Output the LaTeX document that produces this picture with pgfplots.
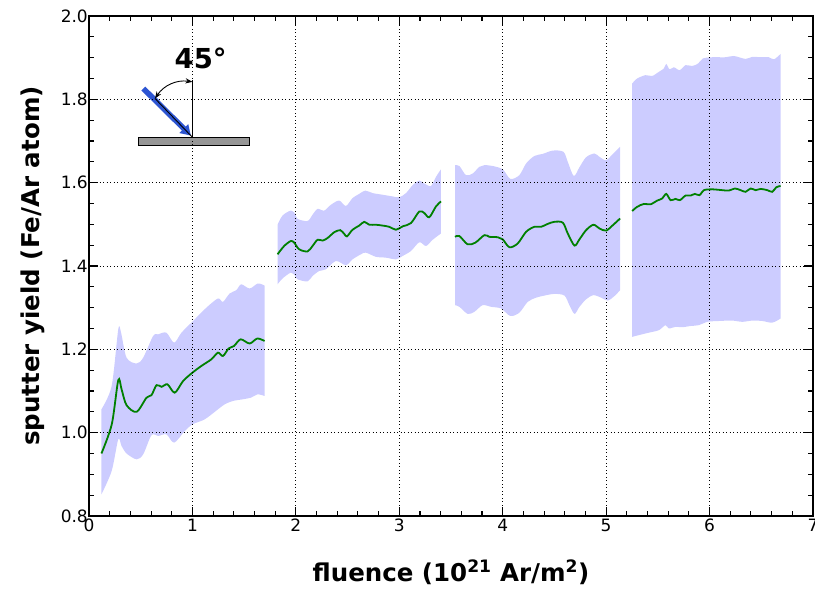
\documentclass[border=0pt]{standalone}
\usepackage{pgfplots}
\pgfplotsset{compat=1.18}
\usepgfplotslibrary{fillbetween}
\usetikzlibrary{arrows.meta}
\usepackage{fontspec}
\setmainfont{DejaVu Sans}
\definecolor{band}{RGB}{204,204,255}
\definecolor{lgreen}{RGB}{0,128,0}
\definecolor{arrowblue}{RGB}{45,85,210}
\definecolor{subgray}{RGB}{150,150,150}
\begin{document}
\begin{tikzpicture}
\begin{axis}[
  scale only axis, width=724pt, height=500pt,
  xmin=0, xmax=7, ymin=0.8, ymax=2.0,
  xtick={0,1,2,3,4,5,6,7},
  ytick={0.8,1.0,1.2,1.4,1.6,1.8,2.0},
  yticklabel style={/pgf/number format/fixed, /pgf/number format/fixed zerofill, /pgf/number format/precision=1, inner xsep=1pt},
  minor x tick num=4, minor y tick num=3,
  tick align=inside,
  major tick length=9pt, minor tick length=5pt,
  every tick/.style={black, line width=1.1pt},
  axis line style={line width=1.2pt},
  grid=major,
  major grid style={black, line width=0.9pt, dash pattern=on 0.9pt off 2.6pt},
  axis on top,
  /pgf/number format/assume math mode=true,
  tick label style={font=\fontsize{17}{20}\selectfont},
  xticklabel style={inner ysep=3pt},
  xlabel={\textbf{fluence (10\textsuperscript{21} Ar/m\textsuperscript{2})}},
  ylabel={\textbf{sputter yield (Fe/Ar atom)}},
  every axis x label/.style={at={(axis description cs:0.5,0)}, anchor=center, yshift=-56pt, font=\fontsize{24.5}{28}\selectfont},
  every axis y label/.style={at={(axis description cs:0,0.5)}, anchor=center, rotate=90, yshift=56pt, font=\fontsize{24.5}{28}\selectfont},
]
% ---------- segment 1
\addplot[name path=u1, draw=none, smooth, tension=0.5] coordinates {
(0.12,1.056)(0.219,1.112)(0.283,1.248)(0.31,1.240)(0.363,1.180)(0.46,1.166)(0.524,1.180)(0.62,1.232)(0.669,1.236)(0.748,1.240)(0.823,1.216)(0.894,1.240)(1.006,1.268)(1.135,1.300)(1.247,1.322)(1.295,1.314)(1.36,1.334)(1.424,1.342)(1.472,1.356)(1.553,1.346)(1.633,1.358)(1.697,1.353)};
\addplot[name path=l1, draw=none, smooth, tension=0.5] coordinates {
(0.12,0.852)(0.219,0.908)(0.283,0.984)(0.315,0.968)(0.363,0.950)(0.46,0.936)(0.524,0.948)(0.604,0.994)(0.669,0.992)(0.748,0.996)(0.823,0.976)(0.926,1.004)(1.0,1.020)(1.119,1.032)(1.247,1.056)(1.312,1.068)(1.39,1.076)(1.485,1.080)(1.566,1.084)(1.63,1.092)(1.697,1.088)};
\addplot[band, draw=none] fill between[of=u1 and l1];
% ---------- segment 2
\addplot[name path=u2, draw=none, smooth, tension=0.5] coordinates {
(1.823,1.499)(1.871,1.521)(1.952,1.533)(1.994,1.525)(2.016,1.513)(2.113,1.508)(2.161,1.523)(2.21,1.537)(2.274,1.533)(2.339,1.547)(2.419,1.557)(2.484,1.544)(2.548,1.563)(2.613,1.573)(2.671,1.581)(2.742,1.575)(2.839,1.571)(2.935,1.567)(3.0,1.565)(3.065,1.575)(3.129,1.594)(3.194,1.605)(3.242,1.598)(3.306,1.592)(3.355,1.614)(3.403,1.632)};
\addplot[name path=l2, draw=none, smooth, tension=0.5] coordinates {
(1.823,1.356)(1.871,1.370)(1.952,1.384)(1.994,1.376)(2.016,1.368)(2.113,1.363)(2.161,1.376)(2.226,1.388)(2.29,1.392)(2.387,1.412)(2.484,1.402)(2.548,1.416)(2.629,1.428)(2.677,1.432)(2.774,1.422)(2.871,1.420)(2.968,1.416)(3.032,1.424)(3.113,1.436)(3.194,1.457)(3.258,1.448)(3.323,1.463)(3.403,1.478)};
\addplot[band, draw=none] fill between[of=u2 and l2];
% ---------- segment 3
\addplot[name path=u3, draw=none, smooth, tension=0.5] coordinates {
(3.539,1.642)(3.581,1.640)(3.645,1.618)(3.71,1.622)(3.774,1.638)(3.823,1.642)(3.903,1.640)(4.0,1.632)(4.074,1.609)(4.161,1.618)(4.226,1.646)(4.306,1.664)(4.387,1.669)(4.484,1.677)(4.587,1.674)(4.629,1.650)(4.687,1.616)(4.742,1.637)(4.806,1.661)(4.887,1.670)(4.935,1.662)(5.0,1.654)(5.065,1.669)(5.135,1.686)};
\addplot[name path=l3, draw=none, smooth, tension=0.5] coordinates {
(3.539,1.306)(3.581,1.302)(3.661,1.285)(3.726,1.290)(3.806,1.306)(3.887,1.302)(3.984,1.298)(4.074,1.280)(4.161,1.288)(4.242,1.314)(4.323,1.324)(4.403,1.329)(4.5,1.333)(4.597,1.329)(4.645,1.306)(4.694,1.285)(4.742,1.302)(4.806,1.320)(4.877,1.330)(4.952,1.324)(5.016,1.317)(5.081,1.328)(5.135,1.342)};
\addplot[band, draw=none] fill between[of=u3 and l3];
% ---------- segment 4
\addplot[name path=u4, draw=none, smooth, tension=0.5] coordinates {
(5.252,1.838)(5.3,1.850)(5.381,1.858)(5.445,1.856)(5.51,1.866)(5.558,1.874)(5.581,1.885)(5.613,1.872)(5.655,1.877)(5.71,1.870)(5.768,1.882)(5.832,1.880)(5.89,1.886)(5.935,1.898)(6.026,1.901)(6.155,1.901)(6.235,1.904)(6.348,1.897)(6.413,1.902)(6.494,1.901)(6.574,1.901)(6.623,1.896)(6.687,1.909)};
\addplot[name path=l4, draw=none, smooth, tension=0.5] coordinates {
(5.252,1.230)(5.316,1.234)(5.413,1.240)(5.51,1.246)(5.574,1.258)(5.606,1.250)(5.671,1.254)(5.735,1.253)(5.816,1.256)(5.897,1.258)(5.977,1.266)(6.09,1.268)(6.219,1.269)(6.316,1.266)(6.413,1.269)(6.51,1.268)(6.606,1.264)(6.687,1.274)};
\addplot[band, draw=none] fill between[of=u4 and l4];
% ---------- mean lines
\addplot[lgreen, line width=1.8pt, smooth, tension=0.5] coordinates {
(0.12,0.950)(0.22,1.020)(0.283,1.126)(0.315,1.104)(0.363,1.066)(0.46,1.050)(0.556,1.084)(0.604,1.090)(0.653,1.114)(0.701,1.110)(0.759,1.116)(0.829,1.096)(0.91,1.124)(1.0,1.144)(1.086,1.160)(1.183,1.176)(1.247,1.192)(1.295,1.184)(1.35,1.202)(1.402,1.208)(1.466,1.224)(1.553,1.214)(1.627,1.226)(1.697,1.220)};
\addplot[lgreen, line width=1.8pt, smooth, tension=0.5] coordinates {
(1.823,1.428)(1.887,1.448)(1.952,1.460)(1.984,1.456)(2.032,1.440)(2.113,1.435)(2.161,1.448)(2.21,1.463)(2.258,1.461)(2.306,1.467)(2.371,1.481)(2.429,1.486)(2.468,1.477)(2.494,1.471)(2.548,1.487)(2.613,1.497)(2.661,1.506)(2.71,1.499)(2.774,1.499)(2.839,1.497)(2.903,1.494)(2.968,1.487)(3.032,1.495)(3.113,1.503)(3.194,1.531)(3.242,1.527)(3.29,1.517)(3.355,1.543)(3.403,1.555)};
\addplot[lgreen, line width=1.8pt, smooth, tension=0.5] coordinates {
(3.539,1.470)(3.581,1.472)(3.661,1.452)(3.735,1.456)(3.823,1.474)(3.871,1.470)(3.952,1.469)(4.0,1.464)(4.065,1.445)(4.145,1.454)(4.226,1.482)(4.306,1.494)(4.371,1.494)(4.435,1.501)(4.5,1.506)(4.581,1.504)(4.629,1.478)(4.694,1.449)(4.742,1.464)(4.806,1.486)(4.877,1.499)(4.935,1.490)(5.0,1.485)(5.065,1.498)(5.135,1.514)};
\addplot[lgreen, line width=1.8pt, smooth, tension=0.5] coordinates {
(5.252,1.532)(5.3,1.542)(5.365,1.549)(5.429,1.548)(5.494,1.557)(5.542,1.562)(5.581,1.573)(5.623,1.558)(5.671,1.561)(5.713,1.558)(5.768,1.569)(5.816,1.569)(5.858,1.573)(5.903,1.570)(5.945,1.582)(6.026,1.584)(6.123,1.582)(6.187,1.581)(6.245,1.586)(6.3,1.582)(6.348,1.578)(6.397,1.586)(6.445,1.582)(6.494,1.585)(6.558,1.582)(6.606,1.578)(6.645,1.589)(6.687,1.592)};
% ---------- inset sketch
\draw[line width=1pt, fill=subgray] (axis cs:0.477,1.688) rectangle (axis cs:1.547,1.709);
\draw[line width=1pt] (axis cs:1.0,1.709) -- (axis cs:1.0,1.846);
\draw[arrowblue, line width=5.5pt, -{Triangle[length=10pt,width=12pt]}] (axis cs:0.525,1.826) -- (axis cs:0.985,1.713);
\draw[line width=0.9pt] (axis cs:0.638,1.802) -- (axis cs:1.0,1.709);
\draw[line width=0.9pt, {Stealth[length=7pt]}-{Stealth[length=7pt]}] (axis cs:0.638,1.802) to[bend left=32] (axis cs:1.0,1.842);
\node[font=\bfseries\fontsize{27.5}{30}\selectfont] at (axis cs:1.08,1.899) {45°};
\end{axis}
\pgfresetboundingbox
\path[use as bounding box] (current axis.south west) ++(-89pt,-74pt) rectangle ([shift={(2pt,16pt)}]current axis.north east);
\end{tikzpicture}
\end{document}
